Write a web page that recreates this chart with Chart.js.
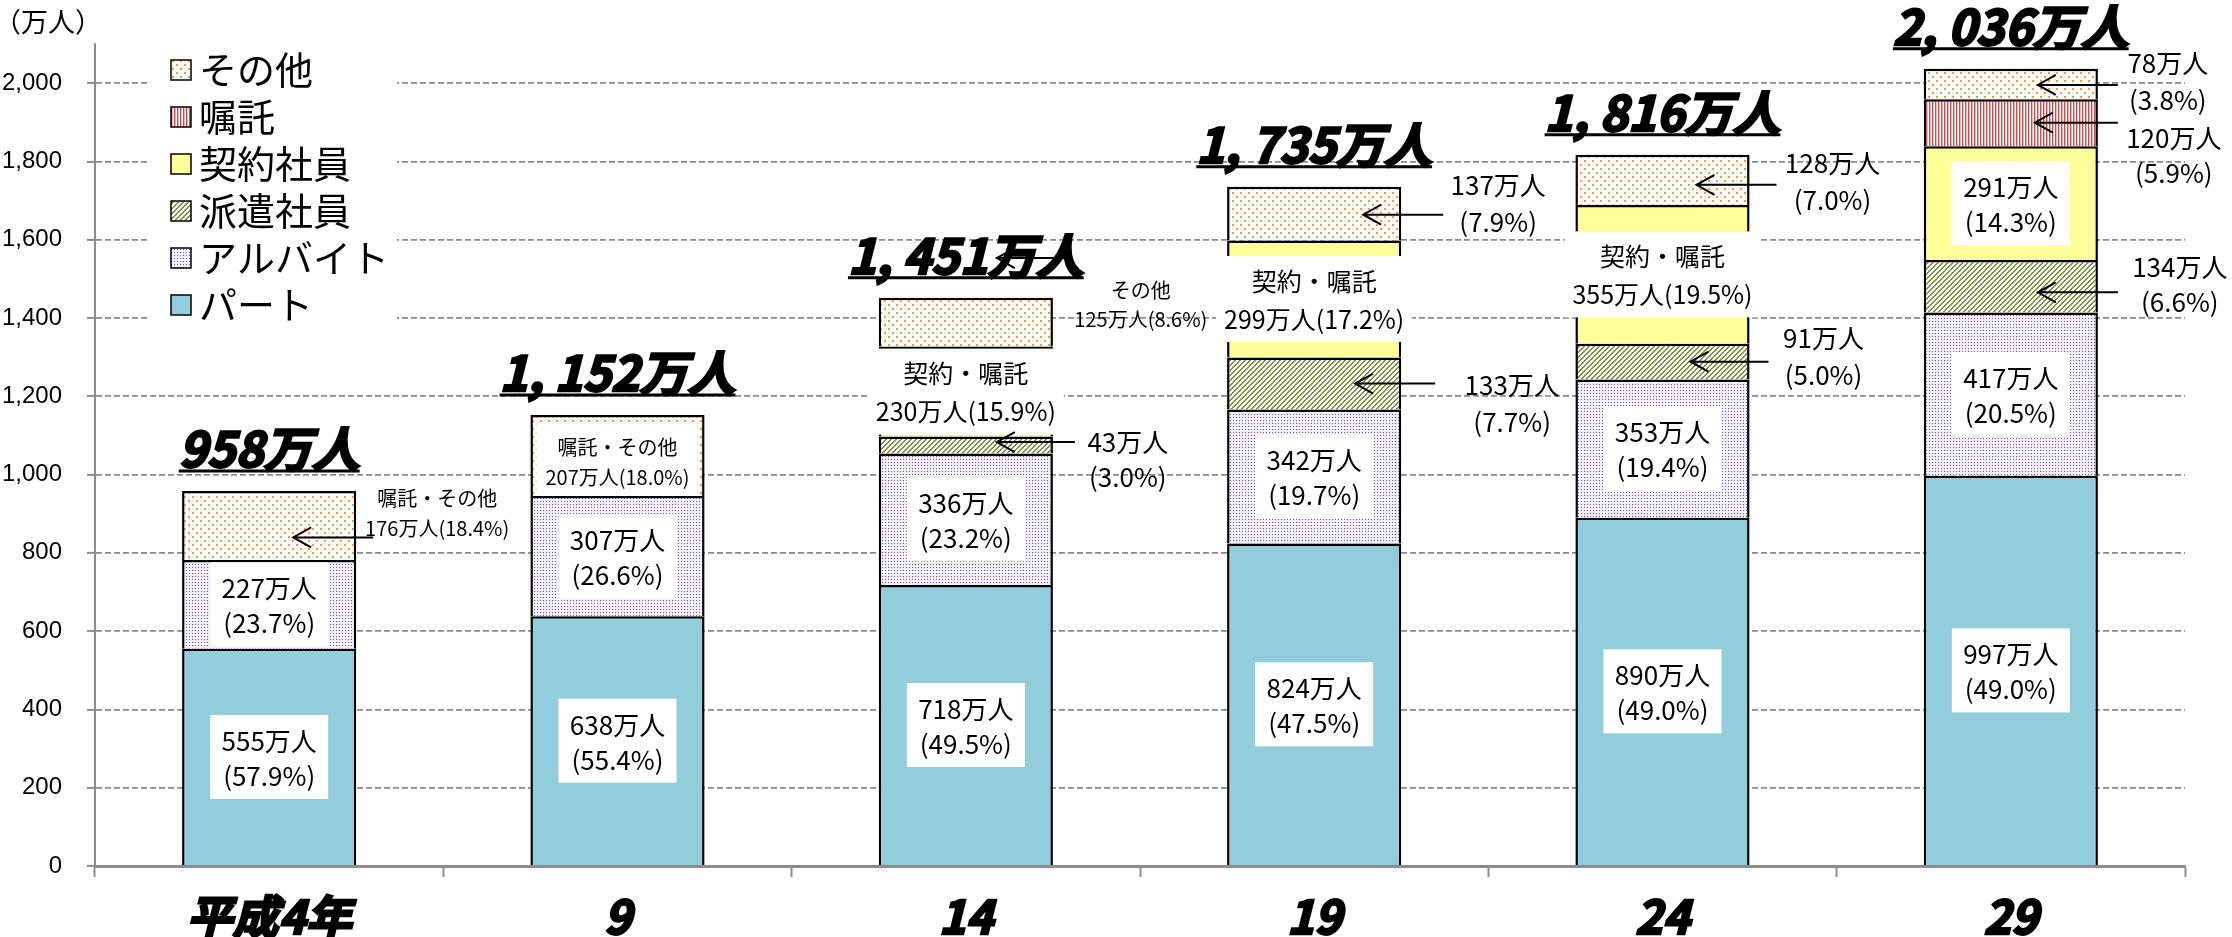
<!DOCTYPE html>
<html lang="ja">
<head>
<meta charset="utf-8">
<title>非正規雇用者数の推移</title>
<script src="https://cdn.jsdelivr.net/npm/chart.js@4.4.1/dist/chart.umd.min.js"></script>
<style>
  html, body { margin: 0; padding: 0; background: #fff; }
  #contenedor { position: relative; width: 2232px; height: 937px; }
</style>
</head>
<body>
<div id="contenedor"><canvas id="grafico"></canvas></div>
<script>
// ---- datos (万人) ----
const categorias = ['平成4年', '9', '14', '19', '24', '29'];
const nombres = ['パート', 'アルバイト', '派遣社員', '契約社員', '嘱託', 'その他'];

const part = [555, 638, 718, 824, 890, 997];
const arubaito = [227, 307, 336, 342, 353, 417];
const haken = [null, null, 43, 133, 91, 134];
const keiyaku = [null, null, 230, 299, 355, 291];   // 14〜24年は契約・嘱託の合計
const shokutaku = [null, null, null, null, null, 120];
const sonota = [176, 207, 125, 137, 128, 78];      // 4・9年は嘱託・その他

const pctPart = [57.9, 55.4, 49.5, 47.5, 49.0, 49.0];
const pctArubaito = [23.7, 26.6, 23.2, 19.7, 19.4, 20.5];
const pctHaken = [null, null, 3.0, 7.7, 5.0, 6.6];
const pctKeiyaku = [null, null, 15.9, 17.2, 19.5, 14.3];
const pctShokutaku = [null, null, null, null, null, 5.9];
const pctSonota = [18.4, 18.0, 8.6, 7.9, 7.0, 3.8];

const totales = [958, 1152, 1451, 1735, 1816, 2036];

const yMax = 2100;
const yPaso = 200;
const yTope = 2000;

// ---- estilos ----
const JP = '"Noto Sans CJK JP", "Noto Sans", sans-serif';
const GRUESA = '"Liberation Sans Narrow", "Noto Sans CJK JP", sans-serif';

function crearPatron(w, h, pintar) {
    const c = document.createElement('canvas');
    c.width = w;
    c.height = h;
    const g = c.getContext('2d');
    pintar(g);
    return g.createPattern(c, 'repeat');
}

const patAlba = crearPatron(3, 3, g => {
    g.fillStyle = '#f3effa'; g.fillRect(0, 0, 3, 3);
    g.fillStyle = '#6c55a3';
    g.fillRect(0, 0, 1, 1);
});
const patOtros = crearPatron(8, 8, g => {
    g.fillStyle = '#fff'; g.fillRect(0, 0, 8, 8);
    g.fillStyle = '#f79646';
    g.fillRect(0, 0, 2, 2); g.fillRect(4, 4, 2, 2);
});
const patHaken = crearPatron(5, 5, g => {
    g.fillStyle = '#fff'; g.fillRect(0, 0, 5, 5);
    g.fillStyle = '#76923c';
    for (let i = 0; i < 5; i++) {
        g.fillRect(i, 4 - i, 1, 1);
        g.fillRect((i + 1) % 5, 4 - i, 1, 1);
    }
});
const patShoku = crearPatron(3, 1, g => {
    g.fillStyle = '#fff'; g.fillRect(0, 0, 3, 1);
    g.fillStyle = '#c0504d'; g.fillRect(0, 0, 1, 1);
    g.fillStyle = '#eab7b6'; g.fillRect(1, 0, 1, 1);
});

const rellenos = ['#92cddc', patAlba, patHaken, '#ffff99', patShoku, patOtros];
const series = [part, arubaito, haken, keiyaku, shokutaku, sonota];

const pct = p => `(${p.toFixed(1)}%)`;
const conComa = n => n >= 1000 ? Math.floor(n / 1000) + ', ' + String(n % 1000).padStart(3, '0') : String(n);

function segmento(chart, d, i) {
    const el = chart.getDatasetMeta(d).data[i];
    const top = Math.min(el.y, el.base);
    const bottom = Math.max(el.y, el.base);
    return { cx: el.x, top, bottom, cy: (top + bottom) / 2, left: el.x - el.width / 2, right: el.x + el.width / 2 };
}

function textos(ctx, lineas, x, ys, tam) {
    ctx.font = `${tam}px ${JP}`;
    ctx.fillStyle = '#000';
    ctx.textAlign = 'center';
    ctx.textBaseline = 'middle';
    lineas.forEach((t, k) => ctx.fillText(t, x, ys[k]));
}

function flecha(ctx, punta, cola, y) {
    ctx.strokeStyle = '#000';
    ctx.lineWidth = 2;
    ctx.beginPath();
    ctx.moveTo(cola, y); ctx.lineTo(punta, y);
    ctx.moveTo(punta + 18, y - 10); ctx.lineTo(punta, y); ctx.lineTo(punta + 18, y + 10);
    ctx.stroke();
}

// llamadas fuera de la barra: [serie, categoría, líneas, dx texto, dy1, dy2, tamaño, flecha [punta, cola, dy]]
const llamadas = [
    [5, 0, ['嘱託・その他', `${sonota[0]}万人${pct(pctSonota[0])}`], 168, -27, 3, 20, [24, 104, 12]],
    [5, 2, ['その他', `${sonota[2]}万人${pct(pctSonota[2])}`], 175, -32, -3, 20, [31, 107, -64]],
    [2, 2, [`${haken[2]}万人`, pct(pctHaken[2])], 162, -3, 32, 26, [31, 109, -3]],
    [5, 3, [`${sonota[3]}万人`, pct(pctSonota[3])], 184, -29, 8, 26, [49, 129, 1]],
    [2, 3, [`${haken[3]}万人`, pct(pctHaken[3])], 198, 2, 39, 26, [41, 121, 0]],
    [5, 4, [`${sonota[4]}万人`, pct(pctSonota[4])], 170, -17, 20, 26, [34, 114, 5]],
    [2, 4, [`${haken[4]}万人`, pct(pctHaken[4])], 161, -24, 13, 26, [28, 106, 0]],
    [5, 5, [`${sonota[5]}万人`, pct(pctSonota[5])], 157, -21, 16, 26, [27, 107, 1]],
    [4, 5, [`${shokutaku[5]}万人`, pct(pctShokutaku[5])], 163, 15, 50, 26, [24, 107, 0]],
    [2, 5, [`${haken[5]}万人`, pct(pctHaken[5])], 169, -19, 16, 26, [27, 107, 6]]
];

const etiquetas = {
    id: 'etiquetas',
    afterDatasetsDraw(chart) {
        const ctx = chart.ctx;
        ctx.save();

        // cajas blancas dentro de la barra
        const cajaInterior = (s, v, p) => {
            ctx.fillStyle = '#fff';
            ctx.fillRect(s.cx - 59, s.cy - 42, 118, 84);
            textos(ctx, [`${v}万人`, pct(p)], s.cx, [s.cy - 16, s.cy + 19], 26);
        };
        part.forEach((v, i) => cajaInterior(segmento(chart, 0, i), v, pctPart[i]));
        arubaito.forEach((v, i) => cajaInterior(segmento(chart, 1, i), v, pctArubaito[i]));
        cajaInterior(segmento(chart, 3, 5), keiyaku[5], pctKeiyaku[5]);

        // 契約・嘱託 (14〜24年)
        [2, 3, 4].forEach(i => {
            const s = segmento(chart, 3, i);
            ctx.fillStyle = '#fff';
            ctx.fillRect(s.cx - 98, s.cy - 43, 196, 86);
            textos(ctx, ['契約・嘱託', `${keiyaku[i]}万人${pct(pctKeiyaku[i])}`], s.cx, [s.cy - 18, s.cy + 20], 25);
        });

        // 嘱託・その他 (9年)
        const s9 = segmento(chart, 5, 1);
        ctx.fillStyle = '#fff';
        ctx.fillRect(s9.left + 6, s9.top + 7, s9.right - s9.left - 12, s9.bottom - s9.top - 8);
        textos(ctx, ['嘱託・その他', `${sonota[1]}万人${pct(pctSonota[1])}`], s9.cx, [s9.cy - 8, s9.cy + 22], 20);

        // llamadas con flecha
        llamadas.forEach(([d, i, lineas, dx, dy1, dy2, tam, f]) => {
            const s = segmento(chart, d, i);
            textos(ctx, lineas, s.cx + dx, [s.cy + dy1, s.cy + dy2], tam);
            if (f) flecha(ctx, s.cx + f[0], s.cx + f[1], s.cy + f[2]);
        });

        // totales subrayados
        totales.forEach((t, i) => {
            const s = segmento(chart, 5, i);
            const texto = conComa(t) + '万人';
            ctx.font = `italic bold 48px ${GRUESA}`;
            ctx.textAlign = 'center';
            ctx.textBaseline = 'alphabetic';
            ctx.fillStyle = '#000';
            ctx.strokeStyle = '#000';
            ctx.lineWidth = 2.5;
            ctx.strokeText(texto, s.cx, s.top - 24);
            ctx.fillText(texto, s.cx, s.top - 24);
            const w = ctx.measureText(texto).width;
            ctx.lineWidth = 3;
            ctx.beginPath();
            ctx.moveTo(s.cx - w / 2, s.top - 20);
            ctx.lineTo(s.cx + w / 2, s.top - 20);
            ctx.stroke();
        });

        // leyenda
        ctx.fillStyle = '#fff';
        ctx.fillRect(147, 45, 250, 290);
        ctx.font = `38px ${JP}`;
        ctx.textAlign = 'left';
        ctx.textBaseline = 'middle';
        for (let k = 0; k < nombres.length; k++) {
            const d = nombres.length - 1 - k;
            const y = 70 + k * 47;
            ctx.fillStyle = rellenos[d];
            ctx.fillRect(171, y - 10, 20, 20);
            ctx.strokeStyle = '#000';
            ctx.lineWidth = 1.5;
            ctx.strokeRect(171, y - 10, 20, 20);
            ctx.fillStyle = '#000';
            ctx.fillText(nombres[d], 199, y);
        }

        // unidad del eje
        ctx.font = `27px ${JP}`;
        ctx.textAlign = 'left';
        ctx.fillText('（万人）', -6, 22);

        ctx.restore();
    }
};

const grafico = new Chart(document.getElementById('grafico'), {
    type: 'bar',
    data: {
        labels: categorias,
        datasets: series.map((valores, d) => ({
            label: nombres[d],
            data: valores,
            backgroundColor: rellenos[d],
            borderColor: '#000',
            borderWidth: 2.5,
            borderSkipped: 'start',
            barPercentage: 0.5,
            categoryPercentage: 1.0
        }))
    },
    options: {
        responsive: true,
        maintainAspectRatio: false,
        animation: false,
        layout: { padding: { top: 44, right: 47, left: 0, bottom: 0 } },
        plugins: {
            legend: { display: false },
            tooltip: { enabled: false }
        },
        scales: {
            x: {
                stacked: true,
                afterFit: scale => { scale.height = 71; },
                grid: {
                    drawOnChartArea: false,
                    drawTicks: true,
                    tickLength: 11,
                    tickColor: '#8c8c8c',
                    tickWidth: 2
                },
                border: { color: '#8c8c8c', width: 3, z: 1 },
                ticks: {
                    color: '#000',
                    padding: 12,
                    font: { family: GRUESA, size: 46, weight: 'bold', style: 'italic' },
                    textStrokeColor: '#000',
                    textStrokeWidth: 2.5
                }
            },
            y: {
                stacked: true,
                min: 0,
                max: yMax,
                afterFit: scale => { scale.width = 95; },
                afterBuildTicks: scale => { scale.ticks = scale.ticks.filter(t => t.value <= yTope); },
                grid: {
                    color: '#8a8a8a',
                    lineWidth: 1.8,
                    tickLength: 8,
                    tickColor: '#8c8c8c',
                    tickWidth: 2,
                    tickBorderDash: []
                },
                border: { color: '#8c8c8c', width: 2, dash: [6, 3] },
                ticks: {
                    stepSize: yPaso,
                    color: '#000',
                    padding: 25,
                    font: { family: '"Liberation Sans", Arial, sans-serif', size: 24 },
                    callback: v => v.toLocaleString('en-US')
                }
            }
        }
    },
    plugins: [etiquetas]
});
</script>
</body>
</html>
